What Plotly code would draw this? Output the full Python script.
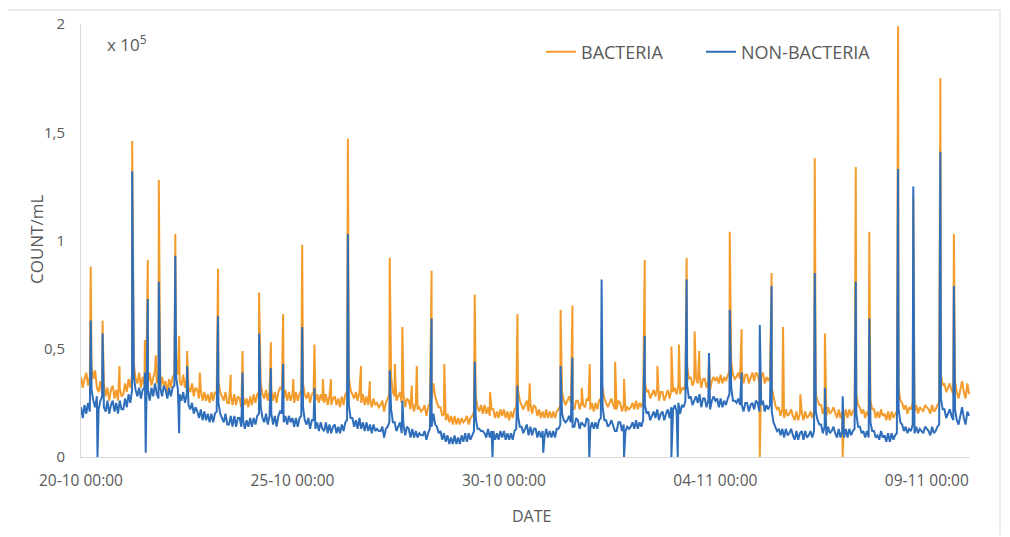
import pandas as pd
import plotly.graph_objects as go

START = pd.Timestamp("2019-10-20 00:00")

# Hourly baseline readings (x 10^5 count/mL): one row per day, hours 00..23
bact_base = [
    [0.37,0.32,0.36,0.39,0.33,0.37,0.42,0.36,0.40,0.32,0.30,0.35,0.29,0.34,0.28,0.32,0.26,0.31,0.33,0.27,0.31,0.26,0.32,0.28],
    [0.29,0.34,0.30,0.36,0.32,0.38,0.43,0.36,0.34,0.39,0.32,0.37,0.33,0.38,0.34,0.39,0.33,0.37,0.40,0.34,0.38,0.32,0.37,0.33],
    [0.35,0.30,0.36,0.32,0.37,0.38,0.45,0.38,0.35,0.33,0.38,0.32,0.37,0.32,0.30,0.34,0.28,0.32,0.31,0.27,0.31,0.26,0.30,0.26],
    [0.29,0.25,0.30,0.26,0.30,0.29,0.35,0.30,0.28,0.26,0.30,0.25,0.25,0.29,0.24,0.29,0.24,0.28,0.27,0.23,0.28,0.24,0.27,0.23],
    [0.28,0.24,0.29,0.25,0.29,0.30,0.34,0.29,0.27,0.31,0.26,0.30,0.31,0.26,0.30,0.25,0.30,0.32,0.31,0.27,0.31,0.26,0.30,0.26],
    [0.29,0.25,0.30,0.26,0.29,0.31,0.34,0.29,0.27,0.30,0.25,0.29,0.30,0.26,0.29,0.25,0.29,0.26,0.25,0.29,0.24,0.28,0.24,0.27],
    [0.28,0.24,0.27,0.23,0.28,0.24,0.29,0.30,0.37,0.31,0.29,0.27,0.30,0.26,0.30,0.25,0.29,0.24,0.28,0.24,0.27,0.23,0.27,0.24],
    [0.25,0.23,0.24,0.26,0.21,0.25,0.27,0.29,0.37,0.30,0.28,0.26,0.28,0.30,0.25,0.29,0.23,0.27,0.26,0.22,0.25,0.21,0.25,0.22],
    [0.23,0.21,0.22,0.24,0.19,0.23,0.25,0.27,0.34,0.28,0.25,0.23,0.23,0.19,0.20,0.17,0.20,0.16,0.19,0.15,0.19,0.15,0.18,0.15],
    [0.18,0.16,0.17,0.19,0.15,0.18,0.19,0.21,0.28,0.23,0.21,0.24,0.20,0.24,0.20,0.23,0.19,0.22,0.22,0.18,0.21,0.18,0.22,0.19],
    [0.22,0.18,0.21,0.17,0.21,0.18,0.22,0.23,0.31,0.26,0.24,0.22,0.24,0.26,0.21,0.25,0.20,0.24,0.23,0.19,0.22,0.18,0.21,0.18],
    [0.22,0.18,0.21,0.18,0.21,0.18,0.21,0.22,0.24,0.30,0.26,0.24,0.26,0.28,0.25,0.23,0.22,0.26,0.26,0.22,0.25,0.24,0.23,0.27],
    [0.26,0.22,0.25,0.21,0.25,0.22,0.26,0.27,0.32,0.27,0.25,0.23,0.25,0.27,0.24,0.22,0.22,0.26,0.25,0.21,0.24,0.21,0.23,0.22],
    [0.23,0.25,0.22,0.26,0.22,0.25,0.23,0.26,0.35,0.30,0.31,0.27,0.29,0.31,0.28,0.32,0.26,0.30,0.30,0.26,0.29,0.31,0.27,0.31],
    [0.30,0.32,0.29,0.33,0.29,0.32,0.31,0.34,0.42,0.36,0.37,0.33,0.35,0.37,0.34,0.38,0.32,0.36,0.36,0.32,0.35,0.31,0.35,0.37],
    [0.35,0.37,0.34,0.38,0.34,0.37,0.35,0.38,0.40,0.44,0.38,0.36,0.37,0.39,0.36,0.40,0.34,0.38,0.38,0.34,0.37,0.39,0.35,0.39],
    [0.38,0.34,0.37,0.39,0.34,0.37,0.35,0.37,0.32,0.27,0.24,0.22,0.23,0.19,0.22,0.18,0.22,0.19,0.20,0.22,0.19,0.17,0.21,0.17],
    [0.20,0.21,0.17,0.21,0.18,0.19,0.21,0.18,0.21,0.29,0.26,0.24,0.24,0.20,0.23,0.19,0.23,0.20,0.21,0.23,0.20,0.18,0.22,0.18],
    [0.21,0.18,0.22,0.18,0.22,0.19,0.21,0.22,0.29,0.24,0.23,0.20,0.22,0.18,0.21,0.19,0.26,0.22,0.22,0.18,0.21,0.18,0.22,0.19],
    [0.20,0.17,0.21,0.17,0.21,0.18,0.20,0.21,0.32,0.26,0.25,0.22,0.24,0.20,0.23,0.22,0.25,0.21,0.24,0.20,0.23,0.22,0.21,0.24],
    [0.23,0.22,0.20,0.24,0.21,0.22,0.24,0.25,0.38,0.33,0.34,0.30,0.32,0.34,0.31,0.29,0.35,0.30,0.27,0.31,0.35,0.30,0.27,0.34],
]
bact_last = 0.29

nonbact_base = [
    [0.23,0.18,0.24,0.20,0.25,0.21,0.31,0.26,0.23,0.28,0.22,0.26,0.28,0.23,0.21,0.26,0.20,0.24,0.26,0.21,0.25,0.20,0.26,0.22],
    [0.22,0.27,0.23,0.29,0.25,0.31,0.37,0.31,0.28,0.32,0.27,0.31,0.32,0.27,0.31,0.26,0.32,0.28,0.34,0.29,0.27,0.32,0.28,0.33],
    [0.31,0.27,0.32,0.28,0.32,0.33,0.37,0.31,0.29,0.26,0.30,0.25,0.29,0.24,0.22,0.25,0.20,0.23,0.21,0.18,0.22,0.17,0.21,0.17],
    [0.20,0.16,0.20,0.16,0.20,0.21,0.25,0.20,0.18,0.16,0.20,0.15,0.15,0.19,0.14,0.19,0.14,0.18,0.18,0.14,0.17,0.13,0.17,0.14],
    [0.18,0.14,0.18,0.15,0.19,0.20,0.23,0.18,0.16,0.20,0.15,0.19,0.20,0.15,0.19,0.14,0.19,0.21,0.20,0.16,0.19,0.15,0.19,0.16],
    [0.18,0.14,0.18,0.14,0.18,0.19,0.23,0.17,0.15,0.18,0.13,0.17,0.17,0.13,0.16,0.12,0.16,0.13,0.12,0.16,0.11,0.15,0.11,0.14],
    [0.15,0.11,0.14,0.11,0.15,0.12,0.16,0.17,0.24,0.18,0.18,0.14,0.17,0.13,0.18,0.13,0.16,0.12,0.16,0.12,0.15,0.11,0.15,0.12],
    [0.13,0.12,0.12,0.14,0.09,0.13,0.14,0.16,0.22,0.16,0.16,0.12,0.14,0.16,0.11,0.15,0.10,0.14,0.13,0.09,0.13,0.09,0.12,0.09],
    [0.11,0.10,0.10,0.12,0.08,0.11,0.13,0.14,0.20,0.15,0.14,0.11,0.12,0.08,0.11,0.07,0.10,0.06,0.09,0.06,0.10,0.06,0.09,0.06],
    [0.10,0.07,0.11,0.07,0.11,0.08,0.10,0.12,0.18,0.13,0.13,0.12,0.12,0.11,0.09,0.13,0.09,0.12,0.12,0.08,0.11,0.08,0.12,0.09],
    [0.12,0.08,0.11,0.08,0.11,0.08,0.12,0.13,0.19,0.14,0.14,0.11,0.13,0.15,0.10,0.14,0.10,0.13,0.13,0.09,0.12,0.09,0.12,0.09],
    [0.13,0.09,0.12,0.09,0.12,0.09,0.13,0.13,0.15,0.20,0.17,0.16,0.17,0.19,0.16,0.14,0.14,0.18,0.17,0.13,0.16,0.15,0.14,0.18],
    [0.17,0.13,0.16,0.13,0.16,0.13,0.17,0.18,0.23,0.17,0.17,0.14,0.15,0.17,0.14,0.12,0.12,0.16,0.16,0.12,0.15,0.12,0.14,0.13],
    [0.14,0.16,0.13,0.17,0.13,0.16,0.14,0.17,0.24,0.20,0.21,0.17,0.19,0.21,0.18,0.22,0.17,0.20,0.21,0.17,0.20,0.22,0.18,0.23],
    [0.22,0.24,0.21,0.25,0.20,0.24,0.23,0.26,0.33,0.27,0.28,0.24,0.26,0.28,0.25,0.29,0.23,0.27,0.27,0.23,0.26,0.22,0.26,0.28],
    [0.26,0.27,0.23,0.27,0.23,0.26,0.24,0.27,0.29,0.32,0.26,0.26,0.25,0.27,0.24,0.24,0.21,0.25,0.25,0.21,0.24,0.25,0.22,0.26],
    [0.25,0.21,0.24,0.26,0.21,0.24,0.22,0.24,0.21,0.16,0.14,0.12,0.13,0.10,0.13,0.09,0.13,0.10,0.11,0.13,0.10,0.08,0.12,0.08],
    [0.11,0.12,0.08,0.12,0.09,0.10,0.12,0.09,0.12,0.21,0.17,0.15,0.15,0.11,0.14,0.10,0.14,0.11,0.12,0.14,0.11,0.09,0.13,0.09],
    [0.12,0.09,0.13,0.09,0.13,0.10,0.12,0.13,0.20,0.14,0.14,0.11,0.12,0.09,0.12,0.09,0.16,0.12,0.12,0.09,0.10,0.08,0.12,0.09],
    [0.10,0.07,0.11,0.07,0.11,0.08,0.10,0.11,0.22,0.16,0.15,0.12,0.14,0.11,0.13,0.12,0.15,0.11,0.14,0.11,0.13,0.12,0.11,0.14],
    [0.13,0.12,0.10,0.14,0.11,0.12,0.14,0.15,0.27,0.22,0.22,0.18,0.20,0.22,0.19,0.17,0.22,0.17,0.15,0.19,0.23,0.18,0.15,0.21],
]
nonbact_last = 0.19

# Spikes / dips: time in days after 20-10 00:00, value (x 10^5)
bact_spike_day = [0.23,0.51,0.91,1.21,1.51,1.58,1.77,1.84,2.23,2.32,2.51,2.81,3.24,3.54,3.82,
                  4.21,4.49,4.78,5.02,5.23,5.52,5.72,5.91,6.31,6.62,6.83,7.30,7.42,7.60,7.82,
                  7.94,8.29,8.59,9.31,9.67,10.32,10.61,11.34,11.62,11.84,12.03,12.63,12.84,13.33,
                  13.63,13.96,14.14,14.32,14.51,14.62,14.85,15.34,15.62,16.05,16.33,16.60,17.01,
                  17.35,17.59,18.01,18.32,18.64,19.32,19.68,20.32,20.64]
bact_spike_val = [0.88,0.63,0.42,1.46,0.54,0.91,0.47,1.28,1.03,0.56,0.49,0.39,0.87,0.38,0.49,
                  0.76,0.53,0.66,0.36,0.98,0.52,0.36,0.36,1.47,0.42,0.35,0.92,0.43,0.60,0.33,
                  0.42,0.86,0.43,0.75,0.30,0.66,0.34,0.68,0.70,0.32,0.43,0.44,0.36,0.91,
                  0.42,0.51,0.52,0.92,0.58,0.49,0.46,1.04,0.59,0.00,0.85,0.60,0.29,
                  1.38,0.57,0.00,1.34,1.04,1.99,1.20,1.75,1.03]

nonbact_spike_day = [0.23,0.39,0.51,1.21,1.51,1.53,1.58,1.84,2.23,2.32,2.51,3.24,3.82,4.21,4.49,
                     4.78,5.23,5.52,6.31,7.30,7.60,8.29,9.31,9.73,10.32,10.93,11.34,11.62,12.02,
                     12.31,12.84,13.33,13.96,14.11,14.32,14.85,15.34,15.62,16.05,16.33,17.35,17.59,
                     18.01,18.32,18.64,19.32,19.68,20.32,20.64]
nonbact_spike_val = [0.63,0.00,0.57,1.32,0.39,0.02,0.73,0.81,0.93,0.11,0.42,0.65,0.39,0.57,0.41,
                     0.43,0.60,0.32,1.03,0.40,0.26,0.64,0.44,0.00,0.33,0.02,0.42,0.46,0.00,
                     0.82,0.00,0.56,0.00,0.00,0.82,0.48,0.68,0.39,0.61,0.79,0.85,0.32,
                     0.28,0.81,0.64,1.33,1.25,1.41,0.79]

tick_dates = ["2019-10-20", "2019-10-25", "2019-10-30", "2019-11-04", "2019-11-09"]
tick_text = ["20-10 00:00", "25-10 00:00", "30-10 00:00", "04-11 00:00", "09-11 00:00"]
y_ticks = [0, 0.5, 1, 1.5, 2]
y_text = ["0", "0,5", "1", "1,5", "2"]

ORANGE = "#F39C2C"
BLUE = "#2F6EBA"
GREY = "#595959"
FONT = "Open Sans"

W, H = 1010, 537
ML, MR, MT, MB = 81, 40, 24, 80
PW, PH = W - ML - MR, H - MT - MB


def px_x(x):
    return (x - ML) / PW


def px_y(y):
    return (H - MB - y) / PH


def build(rows, last, spike_day, spike_val):
    times, vals = [], []
    for d, row in enumerate(rows):
        for h, v in enumerate(row):
            times.append(START + pd.Timedelta(days=d, hours=h))
            vals.append(v)
    times.append(START + pd.Timedelta(days=len(rows)))
    vals.append(last)
    times += [START + pd.Timedelta(days=d) for d in spike_day]
    vals += list(spike_val)
    s = pd.Series(vals, index=times).sort_index(kind="stable")
    return s.index, s.values


bx, by = build(bact_base, bact_last, bact_spike_day, bact_spike_val)
nx, ny = build(nonbact_base, nonbact_last, nonbact_spike_day, nonbact_spike_val)

fig = go.Figure()
fig.add_trace(go.Scatter(x=bx, y=by, mode="lines", name="BACTERIA", legend="legend",
                         line=dict(color=ORANGE, width=2)))
fig.add_trace(go.Scatter(x=nx, y=ny, mode="lines", name="NON-BACTERIA", legend="legend2",
                         line=dict(color=BLUE, width=2)))

leg_common = dict(xanchor="left", yanchor="middle", y=px_y(52),
                  font=dict(size=18, color=GREY), bgcolor="rgba(0,0,0,0)")

fig.update_layout(
    width=W, height=H,
    margin=dict(l=ML, r=MR, t=MT, b=MB),
    paper_bgcolor="white", plot_bgcolor="white",
    font=dict(family=FONT, size=13, color=GREY),
    showlegend=True,
    legend=dict(x=px_x(541), **leg_common),
    legend2=dict(x=px_x(701), **leg_common),
    xaxis=dict(
        range=["2019-10-20 00:00", "2019-11-10 00:30"],
        tickvals=tick_dates, ticktext=tick_text,
        showgrid=False, zeroline=False, automargin=False,
        showline=True, linecolor="#D9D9D9", linewidth=1,
        ticks="outside", ticklen=9, tickcolor="rgba(0,0,0,0)",
        tickfont=dict(size=15.5, color=GREY),
    ),
    yaxis=dict(
        range=[0, 2],
        tickvals=y_ticks, ticktext=y_text,
        showgrid=False, zeroline=False, automargin=False,
        showline=True, linecolor="#D9D9D9", linewidth=1,
        ticks="outside", ticklen=12, tickcolor="rgba(0,0,0,0)",
        tickfont=dict(size=15, color=GREY),
    ),
    annotations=[
        dict(text="x 10<sup>5</sup>", xref="paper", yref="paper",
             x=px_x(105), y=px_y(43), xanchor="left", yanchor="middle",
             showarrow=False, font=dict(size=17, color=GREY)),
        dict(text="DATE", xref="paper", yref="paper",
             x=px_x(531), y=px_y(516), xanchor="center", yanchor="middle",
             showarrow=False, font=dict(size=16, color=GREY)),
        dict(text="COUNT/mL", xref="paper", yref="paper", textangle=-90,
             x=px_x(37), y=px_y(240), xanchor="center", yanchor="middle",
             showarrow=False, font=dict(size=17, color=GREY)),
    ],
    shapes=[
        dict(type="line", xref="paper", yref="paper", x0=px_x(8), x1=px_x(1000),
             y0=px_y(10), y1=px_y(10), line=dict(color="#D9D9D9", width=1)),
        dict(type="line", xref="paper", yref="paper", x0=px_x(1000), x1=px_x(1000),
             y0=px_y(10), y1=px_y(535), line=dict(color="#D9D9D9", width=1)),
    ],
)

fig.write_html("out.html", config={"displayModeBar": False},
               post_script="document.body.style.margin='0';document.body.style.padding='0';")
